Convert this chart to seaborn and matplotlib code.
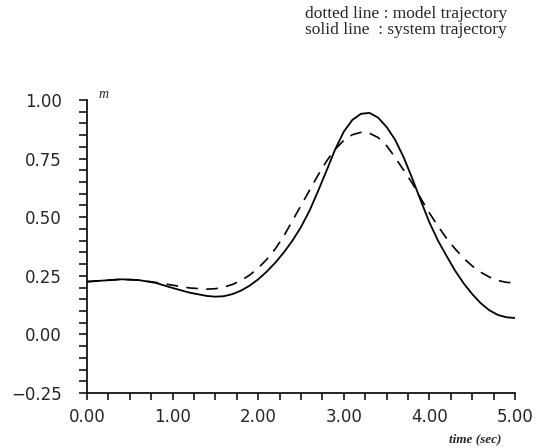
import matplotlib
matplotlib.use("Agg")
import matplotlib.pyplot as plt
from matplotlib.ticker import MultipleLocator, FixedLocator
import seaborn as sns

# time (sec)
time_s = [0.0, 0.2, 0.4, 0.6, 0.8, 1.0, 1.2, 1.4, 1.5, 1.6, 1.7, 1.8, 1.9, 2.0,
          2.1, 2.2, 2.3, 2.4, 2.5, 2.6, 2.7, 2.8, 2.9, 3.0, 3.1, 3.2, 3.3, 3.4,
          3.5, 3.6, 3.7, 3.8, 3.9, 4.0, 4.1, 4.2, 4.3, 4.4, 4.5, 4.6, 4.7, 4.8,
          4.9, 5.0]
# system trajectory (solid)
system_traj = [0.225, 0.230, 0.235, 0.232, 0.220, 0.198, 0.178, 0.164, 0.161, 0.163,
               0.172, 0.187, 0.208, 0.235, 0.268, 0.306, 0.350, 0.400, 0.458, 0.528,
               0.612, 0.700, 0.790, 0.865, 0.915, 0.941, 0.945, 0.925, 0.885, 0.830,
               0.755, 0.665, 0.570, 0.478, 0.400, 0.335, 0.272, 0.218, 0.172, 0.133,
               0.103, 0.083, 0.073, 0.070]
# model trajectory (dashed)
model_traj = [0.225, 0.230, 0.235, 0.232, 0.222, 0.210, 0.198, 0.193, 0.195, 0.202,
              0.213, 0.230, 0.253, 0.283, 0.320, 0.365, 0.420, 0.485, 0.550, 0.615,
              0.680, 0.740, 0.790, 0.828, 0.852, 0.862, 0.858, 0.840, 0.805, 0.755,
              0.700, 0.645, 0.580, 0.518, 0.462, 0.410, 0.365, 0.325, 0.292, 0.265,
              0.245, 0.230, 0.222, 0.220]

x_ticks = [0.0, 1.0, 2.0, 3.0, 4.0, 5.0]
x_ticklabels = ["0.00", "1.00", "2.00", "3.00", "4.00", "5.00"]
y_ticks = [-0.25, 0.0, 0.25, 0.5, 0.75, 1.0]
y_ticklabels = ["\u22120.25", "0.00", "0.25", "0.50", "0.75", "1.00"]

sns.set_style("ticks")
plt.rcParams["font.family"] = ["DejaVu Sans"]

fig = plt.figure(figsize=(5.36, 4.48), dpi=100)
ax = fig.add_axes([87 / 536, 1 - 393 / 448, (515 - 87) / 536, (393 - 100) / 448])

sns.lineplot(x=time_s, y=system_traj, ax=ax, color="black", linewidth=1.3)
sns.lineplot(x=time_s, y=model_traj, ax=ax, color="black", linewidth=1.2,
             linestyle=(0, (7, 5)))

ax.set_xlim(0, 5)
ax.set_ylim(-0.25, 1.0)
sns.despine(ax=ax)
for sp in ("left", "bottom"):
    ax.spines[sp].set_linewidth(1.2)
    ax.spines[sp].set_color("black")

ax.xaxis.set_major_locator(FixedLocator(x_ticks))
ax.set_xticklabels(x_ticklabels)
ax.yaxis.set_major_locator(FixedLocator(y_ticks))
ax.set_yticklabels(y_ticklabels)
ax.xaxis.set_minor_locator(MultipleLocator(0.25))
ax.yaxis.set_minor_locator(MultipleLocator(0.05))
ax.tick_params(axis="both", which="both", direction="out", color="black", width=1.1)
ax.tick_params(axis="x", which="both", length=5, pad=6, labelsize=12)
ax.tick_params(axis="y", which="both", length=6, pad=12, labelsize=12)

ax.text(0.026, 0.995, "m", transform=ax.transAxes, fontsize=10, style="italic",
        family="Liberation Serif", ha="left", va="bottom")
fig.text(475 / 536, 1 - 439 / 448, "time (sec)", fontsize=9.5, style="italic",
         weight="bold", family="Liberation Serif", ha="center", va="center")
fig.text(305 / 536, 1 - 14 / 448, "dotted line : model trajectory", fontsize=12.5,
         family="Liberation Serif", ha="left", va="center")
fig.text(305 / 536, 1 - 30 / 448, "solid line  : system trajectory", fontsize=12.5,
         family="Liberation Serif", ha="left", va="center")

fig.savefig("out.png", dpi=100)
